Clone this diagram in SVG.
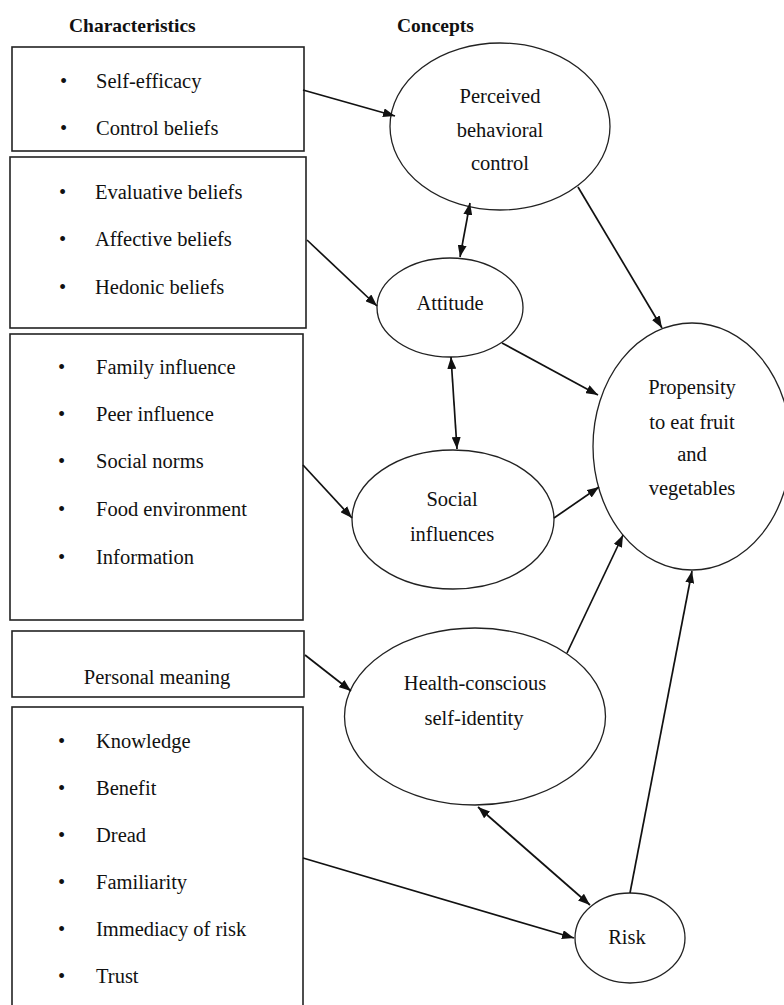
<svg xmlns="http://www.w3.org/2000/svg" width="784" height="1005" viewBox="0 0 784 1005">
<style>
  .box { fill: #fff; stroke: #222; stroke-width: 1.6; }
  .node { fill: #fff; stroke: #222; stroke-width: 1.3; }
  .t { font-family: "Liberation Serif", "Times New Roman", serif; font-size: 20.5px; fill: #111; }
  .c { text-anchor: middle; }
  .h { font-family: "Liberation Serif", "Times New Roman", serif; font-size: 19.5px; font-weight: bold; fill: #111; }
  .edge { stroke: #111; stroke-width: 1.7; fill: none; }
</style>
<defs>
  <marker id="arr" markerUnits="userSpaceOnUse" markerWidth="13" markerHeight="9" refX="12" refY="4.5" orient="auto-start-reverse">
    <path d="M0,0 L12,4.5 L0,9 z" fill="#111"/>
  </marker>
</defs>
<rect width="784" height="1005" fill="#fff"/>

<g id="headers">
  <text class="h" x="69" y="32">Characteristics</text>
  <text class="h" x="397" y="32">Concepts</text>
</g>

<g id="box-pbc-characteristics">
  <rect class="box" x="12" y="47" width="292" height="104"/>
  <text class="t" x="60" y="88">•</text><text class="t" x="96" y="88">Self-efficacy</text>
  <text class="t" x="60" y="135">•</text><text class="t" x="96" y="135">Control beliefs</text>
</g>

<g id="box-attitude-characteristics">
  <rect class="box" x="10" y="157" width="296" height="171"/>
  <text class="t" x="59" y="199">•</text><text class="t" x="95" y="199">Evaluative beliefs</text>
  <text class="t" x="59" y="246">•</text><text class="t" x="95" y="246">Affective beliefs</text>
  <text class="t" x="59" y="294">•</text><text class="t" x="95" y="294">Hedonic beliefs</text>
</g>

<g id="box-social-characteristics">
  <rect class="box" x="10" y="334" width="293" height="286"/>
  <text class="t" x="58" y="374">•</text><text class="t" x="96" y="374">Family influence</text>
  <text class="t" x="58" y="421">•</text><text class="t" x="96" y="421">Peer influence</text>
  <text class="t" x="58" y="468">•</text><text class="t" x="96" y="468">Social norms</text>
  <text class="t" x="58" y="516">•</text><text class="t" x="96" y="516">Food environment</text>
  <text class="t" x="58" y="564">•</text><text class="t" x="96" y="564">Information</text>
</g>

<g id="box-personal-meaning">
  <rect class="box" x="12" y="631" width="292" height="66"/>
  <text class="t c" x="157" y="684">Personal meaning</text>
</g>

<g id="box-risk-characteristics">
  <rect class="box" x="12" y="707" width="291" height="310"/>
  <text class="t" x="58" y="748">•</text><text class="t" x="96" y="748">Knowledge</text>
  <text class="t" x="58" y="795">•</text><text class="t" x="96" y="795">Benefit</text>
  <text class="t" x="58" y="842">•</text><text class="t" x="96" y="842">Dread</text>
  <text class="t" x="58" y="889">•</text><text class="t" x="96" y="889">Familiarity</text>
  <text class="t" x="58" y="936">•</text><text class="t" x="96" y="936">Immediacy of risk</text>
  <text class="t" x="58" y="983">•</text><text class="t" x="96" y="983">Trust</text>
</g>

<g id="node-pbc">
  <ellipse class="node" cx="500" cy="126.5" rx="110" ry="83.5"/>
  <text class="t c" x="500" y="103">Perceived</text>
  <text class="t c" x="500" y="137">behavioral</text>
  <text class="t c" x="500" y="170">control</text>
</g>

<g id="node-attitude">
  <ellipse class="node" cx="450" cy="307.5" rx="73" ry="49.5"/>
  <text class="t c" x="450" y="310">Attitude</text>
</g>

<g id="node-propensity">
  <ellipse class="node" cx="692" cy="446.5" rx="99" ry="123.5"/>
  <text class="t c" x="692" y="394">Propensity</text>
  <text class="t c" x="692" y="429">to eat fruit</text>
  <text class="t c" x="692" y="461">and</text>
  <text class="t c" x="692" y="495">vegetables</text>
</g>

<g id="node-social">
  <ellipse class="node" cx="453" cy="519.5" rx="101" ry="69.5"/>
  <text class="t c" x="452" y="506">Social</text>
  <text class="t c" x="452" y="541">influences</text>
</g>

<g id="node-health">
  <ellipse class="node" cx="475" cy="716.5" rx="130.5" ry="88.5"/>
  <text class="t c" x="475" y="690">Health-conscious</text>
  <text class="t c" x="474" y="725">self-identity</text>
</g>

<g id="node-risk">
  <ellipse class="node" cx="630" cy="938" rx="55" ry="45"/>
  <text class="t c" x="627" y="944">Risk</text>
</g>

<g id="connectors">
  <line class="edge" x1="303" y1="90" x2="395" y2="116" marker-end="url(#arr)"/>
  <line class="edge" x1="307" y1="240" x2="377" y2="306" marker-end="url(#arr)"/>
  <line class="edge" x1="470" y1="203" x2="460" y2="257" marker-start="url(#arr)" marker-end="url(#arr)"/>
  <line class="edge" x1="578" y1="187" x2="662" y2="328" marker-end="url(#arr)"/>
  <line class="edge" x1="502" y1="343" x2="598" y2="395" marker-end="url(#arr)"/>
  <line class="edge" x1="451" y1="357" x2="457" y2="449" marker-start="url(#arr)" marker-end="url(#arr)"/>
  <line class="edge" x1="303" y1="465" x2="352" y2="518" marker-end="url(#arr)"/>
  <line class="edge" x1="554" y1="518" x2="599" y2="487" marker-end="url(#arr)"/>
  <line class="edge" x1="567" y1="653" x2="623" y2="535" marker-end="url(#arr)"/>
  <line class="edge" x1="630" y1="893" x2="692" y2="571" marker-end="url(#arr)"/>
  <line class="edge" x1="305" y1="655" x2="351" y2="691" marker-end="url(#arr)"/>
  <line class="edge" x1="478" y1="807" x2="590" y2="905" marker-start="url(#arr)" marker-end="url(#arr)"/>
  <line class="edge" x1="303" y1="858" x2="574" y2="938" marker-end="url(#arr)"/>
</g>
</svg>
